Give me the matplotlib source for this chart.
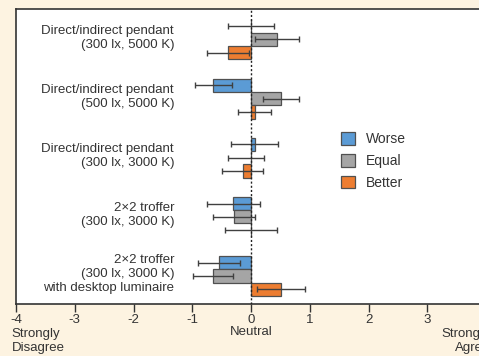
import numpy as np
import matplotlib
matplotlib.use("Agg")
import matplotlib.pyplot as plt

plt.rcParams['font.family'] = ['Liberation Sans', 'DejaVu Sans']

# ---- data ----
groups = ["Direct/indirect pendant\n(300 lx, 5000 K)",
          "Direct/indirect pendant\n(500 lx, 5000 K)",
          "Direct/indirect pendant\n(300 lx, 3000 K)",
          "2×2 troffer\n(300 lx, 3000 K)",
          "2×2 troffer\n(300 lx, 3000 K)\nwith desktop luminaire"]
series = ["Worse", "Equal", "Better"]
worse = [0.0, -0.64, 0.06, -0.30, -0.55]
worse_lo = [0.39, 0.32, 0.40, 0.45, 0.36]
worse_hi = [0.39, 0.32, 0.40, 0.45, 0.36]
equal = [0.44, 0.51, 0.0, -0.29, -0.65]
equal_lo = [0.37, 0.31, 0.40, 0.36, 0.34]
equal_hi = [0.37, 0.31, 0.22, 0.36, 0.34]
better = [-0.39, 0.06, -0.14, 0.0, 0.51]
better_lo = [0.36, 0.28, 0.35, 0.44, 0.41]
better_hi = [0.36, 0.28, 0.35, 0.45, 0.41]
xticks = [-4, -3, -2, -1, 0, 1, 2, 3]

colors = ["#5b9bd5", "#a5a5a5", "#ed7d31"]
bg = "#fdf3e1"

fig = plt.figure(figsize=(4.79, 3.56), dpi=100, facecolor=bg)
ax = fig.add_axes([16/479, 1 - 304.3/356, 470/479, 295/356])

y = np.arange(len(groups))
off = 0.225
vals = [worse, equal, better]
errs = [(worse_lo, worse_hi), (equal_lo, equal_hi), (better_lo, better_hi)]
for i, (v, e) in enumerate(zip(vals, errs)):
    ax.barh(y + (i - 1) * off, v, height=off, color=colors[i],
            edgecolor="#505050", linewidth=0.9, label=series[i], zorder=2)
    ax.errorbar(v, y + (i - 1) * off, xerr=[e[0], e[1]], fmt="none",
                ecolor="#404040", elinewidth=1, capsize=2.5, capthick=1,
                zorder=3)

ax.axvline(0, color="#222222", linestyle=(0, (1.5, 1.5)), linewidth=1, zorder=4)

for yi, g in zip(y, groups):
    ax.text(-1.31, yi - 0.03, g, ha="right", va="center", fontsize=9.5,
            color="#333333", linespacing=1.2, multialignment="right")

ax.set_xlim(-4, 4)
ax.set_ylim(4.48, -0.51)
ax.set_yticks([])
ax.set_xticks(xticks)
ax.set_xticklabels([str(t) for t in xticks])
ax.tick_params(axis="x", direction="out", length=6, width=1, color="#333333",
               labelsize=9.5, labelcolor="#333333", pad=1)
for s in ax.spines.values():
    s.set_color("#333333")
    s.set_linewidth(1.2)

ax.text(-4.07, -0.08, "Strongly\nDisagree", transform=ax.get_xaxis_transform(),
        ha="left", va="top", fontsize=9.5, color="#333333", linespacing=1.25)
ax.text(0, -0.073, "Neutral", transform=ax.get_xaxis_transform(),
        ha="center", va="top", fontsize=9.5, color="#333333")
ax.text(4.07, -0.08, "Strongly\nAgree", transform=ax.get_xaxis_transform(),
        ha="right", va="top", fontsize=9.5, color="#333333", linespacing=1.25,
        multialignment="right")

leg = ax.legend(loc="upper left", bbox_to_anchor=(0.665, 0.625), frameon=False,
                fontsize=10, handlelength=1.0, handleheight=1.0,
                labelspacing=0.55, handletextpad=0.8)
for t in leg.get_texts():
    t.set_color("#333333")

fig.savefig("out.png", dpi=100, facecolor=bg)
